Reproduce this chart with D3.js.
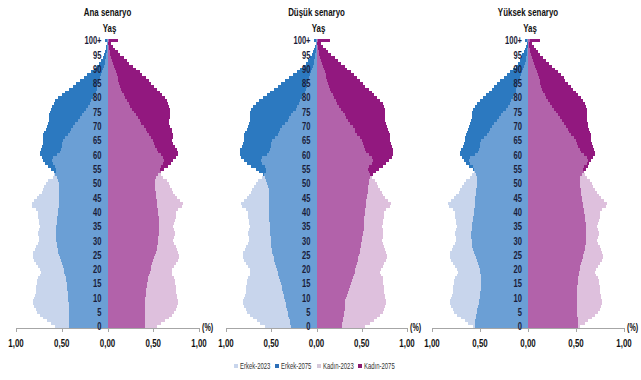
<!DOCTYPE html>
<html>
<head>
<meta charset="utf-8">
<script src="https://cdn.jsdelivr.net/npm/d3@7"></script>
<style>
  body { margin: 0; background: #fff; }
  svg text { font-family: "Liberation Sans", Arial, sans-serif; }
</style>
</head>
<body>
<svg id="chart" width="641" height="380"></svg>
<script>
// categories and labels
const ages = d3.range(0, 101);
const ageTicks = [0, 5, 10, 15, 20, 25, 30, 35, 40, 45, 50, 55, 60, 65, 70, 75, 80, 85, 90, 95, 100];
const ageTickLabels = ['0', '5', '10', '15', '20', '25', '30', '35', '40', '45', '50', '55', '60', '65', '70', '75', '80', '85', '90', '95', '100+'];
const xTicks = [-1, -0.5, 0, 0.5, 1];
const xTickLabels = ['1,00', '0,50', '0,00', '0,50', '1,00'];
const panelTitles = ['Ana senaryo', 'Düşük senaryo', 'Yüksek senaryo'];
const legendLabels = ['Erkek-2023', 'Erkek-2075', 'Kadın-2023', 'Kadın-2075'];

// % of population by single age, 2023 (same in every panel)
const erkek2023 = [
  0.57, 0.62, 0.66, 0.70, 0.74, 0.77, 0.78, 0.80, 0.81, 0.81,
  0.80, 0.79, 0.78, 0.78, 0.78, 0.77, 0.77, 0.76, 0.74, 0.73,
  0.74, 0.76, 0.78, 0.80, 0.81, 0.81, 0.81, 0.79, 0.78, 0.76,
  0.75, 0.75, 0.76, 0.76, 0.75, 0.74, 0.75, 0.75, 0.76, 0.76,
  0.76, 0.78, 0.82, 0.83, 0.80, 0.77, 0.75, 0.72, 0.71, 0.69,
  0.67, 0.65, 0.60, 0.58, 0.56, 0.56, 0.57, 0.60, 0.61, 0.60,
  0.55, 0.52, 0.51, 0.50, 0.50, 0.49, 0.46, 0.43, 0.41, 0.40,
  0.38, 0.35, 0.32, 0.30, 0.28, 0.26, 0.23, 0.21, 0.19, 0.18,
  0.16, 0.15, 0.13, 0.12, 0.11, 0.10, 0.09, 0.08, 0.07, 0.06,
  0.05, 0.04, 0.03, 0.025, 0.02, 0.015, 0.01, 0.01, 0.005, 0.005,
  0.01
];
const kadin2023 = [
  0.54, 0.59, 0.63, 0.67, 0.70, 0.73, 0.75, 0.76, 0.77, 0.77,
  0.76, 0.76, 0.75, 0.75, 0.75, 0.74, 0.74, 0.73, 0.71, 0.70,
  0.71, 0.73, 0.75, 0.77, 0.78, 0.78, 0.77, 0.76, 0.75, 0.73,
  0.72, 0.73, 0.74, 0.74, 0.73, 0.72, 0.73, 0.74, 0.75, 0.75,
  0.75, 0.77, 0.81, 0.82, 0.79, 0.76, 0.74, 0.72, 0.70, 0.68,
  0.67, 0.65, 0.61, 0.59, 0.58, 0.57, 0.58, 0.61, 0.62, 0.61,
  0.58, 0.55, 0.54, 0.52, 0.51, 0.50, 0.48, 0.45, 0.43, 0.42,
  0.40, 0.37, 0.35, 0.33, 0.31, 0.29, 0.27, 0.25, 0.23, 0.21,
  0.19, 0.18, 0.16, 0.15, 0.14, 0.13, 0.12, 0.11, 0.10, 0.09,
  0.08, 0.07, 0.06, 0.05, 0.04, 0.03, 0.025, 0.02, 0.015, 0.01,
  0.02
];

// 2075 by scenario
const erkekAna = [
  0.42, 0.42, 0.42, 0.42, 0.42, 0.42, 0.42, 0.42, 0.42, 0.43,
  0.43, 0.43, 0.43, 0.44, 0.44, 0.44, 0.45, 0.45, 0.46, 0.47,
  0.48, 0.49, 0.50, 0.51, 0.52, 0.53, 0.54, 0.54, 0.55, 0.55,
  0.56, 0.56, 0.56, 0.56, 0.56, 0.56, 0.55, 0.55, 0.55, 0.54,
  0.54, 0.54, 0.53, 0.53, 0.53, 0.53, 0.53, 0.53, 0.53, 0.53,
  0.53, 0.54, 0.55, 0.57, 0.59, 0.62, 0.65, 0.68, 0.70, 0.72,
  0.74, 0.74, 0.73, 0.72, 0.71, 0.70, 0.70, 0.70, 0.69, 0.67,
  0.66, 0.65, 0.64, 0.64, 0.64, 0.63, 0.62, 0.61, 0.59, 0.57,
  0.54, 0.50, 0.46, 0.42, 0.38, 0.34, 0.30, 0.26, 0.22, 0.18,
  0.15, 0.12, 0.09, 0.07, 0.05, 0.04, 0.03, 0.02, 0.015, 0.01,
  0.03
];
const kadinAna = [
  0.41, 0.41, 0.41, 0.41, 0.41, 0.41, 0.41, 0.41, 0.41, 0.41,
  0.41, 0.42, 0.42, 0.42, 0.43, 0.43, 0.44, 0.44, 0.45, 0.46,
  0.47, 0.48, 0.49, 0.50, 0.51, 0.52, 0.53, 0.54, 0.54, 0.55,
  0.55, 0.55, 0.56, 0.56, 0.56, 0.56, 0.56, 0.56, 0.56, 0.55,
  0.55, 0.55, 0.54, 0.54, 0.54, 0.53, 0.53, 0.53, 0.52, 0.52,
  0.52, 0.52, 0.53, 0.55, 0.59, 0.62, 0.66, 0.69, 0.72, 0.75,
  0.77, 0.77, 0.76, 0.74, 0.72, 0.71, 0.72, 0.72, 0.71, 0.70,
  0.68, 0.67, 0.67, 0.68, 0.68, 0.68, 0.68, 0.67, 0.66, 0.65,
  0.63, 0.60, 0.57, 0.54, 0.51, 0.48, 0.45, 0.42, 0.38, 0.35,
  0.31, 0.28, 0.24, 0.21, 0.18, 0.14, 0.11, 0.08, 0.06, 0.04,
  0.12
];
const erkekDusuk = [
  0.28, 0.29, 0.29, 0.30, 0.31, 0.32, 0.33, 0.34, 0.34, 0.35,
  0.36, 0.36, 0.37, 0.38, 0.38, 0.39, 0.40, 0.41, 0.42, 0.43,
  0.44, 0.45, 0.46, 0.47, 0.47, 0.48, 0.49, 0.49, 0.50, 0.50,
  0.50, 0.50, 0.51, 0.51, 0.51, 0.51, 0.51, 0.52, 0.52, 0.52,
  0.52, 0.52, 0.52, 0.52, 0.52, 0.52, 0.53, 0.53, 0.53, 0.54,
  0.55, 0.56, 0.57, 0.59, 0.63, 0.67, 0.72, 0.77, 0.80, 0.83,
  0.85, 0.85, 0.84, 0.82, 0.81, 0.80, 0.80, 0.80, 0.79, 0.77,
  0.76, 0.75, 0.74, 0.74, 0.74, 0.73, 0.72, 0.70, 0.67, 0.63,
  0.59, 0.55, 0.51, 0.47, 0.43, 0.39, 0.35, 0.30, 0.26, 0.22,
  0.18, 0.15, 0.12, 0.09, 0.07, 0.05, 0.04, 0.03, 0.02, 0.01,
  0.03
];
const kadinDusuk = [
  0.28, 0.28, 0.29, 0.29, 0.30, 0.30, 0.31, 0.31, 0.32, 0.32,
  0.33, 0.34, 0.35, 0.36, 0.37, 0.38, 0.39, 0.40, 0.41, 0.42,
  0.43, 0.44, 0.45, 0.46, 0.46, 0.47, 0.48, 0.48, 0.49, 0.49,
  0.50, 0.50, 0.51, 0.51, 0.52, 0.52, 0.52, 0.53, 0.53, 0.54,
  0.54, 0.54, 0.55, 0.55, 0.55, 0.56, 0.56, 0.57, 0.57, 0.57,
  0.58, 0.58, 0.59, 0.62, 0.66, 0.69, 0.73, 0.77, 0.80, 0.83,
  0.85, 0.85, 0.84, 0.83, 0.82, 0.81, 0.81, 0.81, 0.80, 0.79,
  0.78, 0.77, 0.76, 0.76, 0.76, 0.76, 0.76, 0.75, 0.73, 0.70,
  0.67, 0.64, 0.61, 0.58, 0.54, 0.51, 0.48, 0.45, 0.41, 0.38,
  0.34, 0.31, 0.27, 0.24, 0.20, 0.16, 0.13, 0.10, 0.07, 0.05,
  0.15
];
const erkekYuksek = [
  0.55, 0.55, 0.55, 0.54, 0.54, 0.53, 0.53, 0.52, 0.51, 0.51,
  0.50, 0.50, 0.50, 0.49, 0.49, 0.49, 0.49, 0.49, 0.49, 0.50,
  0.50, 0.51, 0.52, 0.53, 0.54, 0.55, 0.56, 0.57, 0.58, 0.58,
  0.58, 0.59, 0.59, 0.59, 0.58, 0.58, 0.58, 0.57, 0.57, 0.56,
  0.56, 0.56, 0.55, 0.55, 0.55, 0.55, 0.54, 0.54, 0.54, 0.53,
  0.53, 0.53, 0.53, 0.54, 0.55, 0.57, 0.61, 0.65, 0.67, 0.69,
  0.71, 0.71, 0.70, 0.68, 0.67, 0.66, 0.66, 0.65, 0.64, 0.62,
  0.61, 0.60, 0.59, 0.58, 0.58, 0.58, 0.57, 0.55, 0.53, 0.50,
  0.47, 0.44, 0.41, 0.38, 0.35, 0.32, 0.29, 0.25, 0.22, 0.19,
  0.16, 0.13, 0.10, 0.08, 0.07, 0.06, 0.04, 0.03, 0.02, 0.01,
  0.03
];
const kadinYuksek = [
  0.52, 0.52, 0.52, 0.52, 0.51, 0.51, 0.51, 0.51, 0.51, 0.51,
  0.51, 0.51, 0.51, 0.51, 0.51, 0.52, 0.52, 0.52, 0.53, 0.53,
  0.54, 0.54, 0.55, 0.56, 0.57, 0.57, 0.58, 0.59, 0.59, 0.60,
  0.60, 0.60, 0.60, 0.60, 0.60, 0.60, 0.60, 0.59, 0.59, 0.59,
  0.58, 0.58, 0.57, 0.57, 0.56, 0.56, 0.55, 0.55, 0.55, 0.54,
  0.54, 0.54, 0.54, 0.56, 0.58, 0.60, 0.62, 0.64, 0.66, 0.68,
  0.70, 0.70, 0.69, 0.68, 0.67, 0.66, 0.66, 0.66, 0.65, 0.64,
  0.63, 0.62, 0.61, 0.61, 0.61, 0.61, 0.61, 0.60, 0.59, 0.57,
  0.55, 0.52, 0.50, 0.47, 0.45, 0.42, 0.39, 0.37, 0.34, 0.31,
  0.28, 0.25, 0.22, 0.19, 0.16, 0.12, 0.10, 0.08, 0.06, 0.04,
  0.12
];

const colors = {
  erkek2023: '#c8d5ec', erkekBoth: '#6b9fd5', erkek2075: '#2c79c0',
  kadin2023: '#dec0dd', kadinBoth: '#b262aa', kadin2075: '#92187f',
  legend: ['#c8d5ec', '#2c6fb8', '#d6c9da', '#8a1a70']
};

const panels = [
  { title: panelTitles[0], erkek: erkekAna, kadin: kadinAna, range: [16, 199] },
  { title: panelTitles[1], erkek: erkekDusuk, kadin: kadinDusuk, range: [226, 407] },
  { title: panelTitles[2], erkek: erkekYuksek, kadin: kadinYuksek, range: [432, 624] }
];

const axisY = 328;
const narrow = 0.72; // squeeze Liberation Sans to look like Arial Narrow
const svg = d3.select('#chart');

const y = d3.scaleBand().domain(ages).range([axisY, 39]);
const bw = y.bandwidth();

panels.forEach((p) => {
  const x = d3.scaleLinear().domain([-1, 1]).range(p.range);
  const g = svg.append('g');
  const x0 = x(0);

  // layers: 2023 only, 2075 only, overlap of both
  const layers = [
    { vals: erkek2023, sign: -1, color: colors.erkek2023 },
    { vals: p.erkek, sign: -1, color: colors.erkek2075 },
    { vals: ages.map((a) => Math.min(erkek2023[a], p.erkek[a])), sign: -1, color: colors.erkekBoth },
    { vals: kadin2023, sign: 1, color: colors.kadin2023 },
    { vals: p.kadin, sign: 1, color: colors.kadin2075 },
    { vals: ages.map((a) => Math.min(kadin2023[a], p.kadin[a])), sign: 1, color: colors.kadinBoth }
  ];

  layers.forEach((l) => {
    g.append('g')
      .attr('shape-rendering', 'crispEdges')
      .selectAll('rect')
      .data(ages)
      .join('rect')
      .attr('x', (a) => Math.min(x0, x(l.sign * l.vals[a])))
      .attr('width', (a) => Math.abs(x(l.sign * l.vals[a]) - x0))
      .attr('y', (a) => y(a))
      .attr('height', bw)
      .attr('fill', l.color);
  });

  // x axis
  g.append('line')
    .attr('x1', p.range[0]).attr('x2', p.range[1])
    .attr('y1', axisY + 0.5).attr('y2', axisY + 0.5)
    .attr('stroke', '#a6a6a6');
  g.selectAll('.tick')
    .data(xTicks)
    .join('line')
    .attr('x1', (d) => Math.round(x(d)) + 0.5).attr('x2', (d) => Math.round(x(d)) + 0.5)
    .attr('y1', axisY).attr('y2', axisY + 4)
    .attr('stroke', '#a6a6a6');
  g.selectAll('.xlab')
    .data(xTicks)
    .join('text')
    .attr('transform', (d) => `translate(${x(d)},${axisY + 19}) scale(${narrow},1)`)
    .attr('text-anchor', 'middle')
    .attr('font-size', 11)
    .attr('font-weight', 'bold')
    .attr('fill', '#111')
    .text((d, i) => xTickLabels[i]);
  g.append('text')
    .attr('transform', `translate(${p.range[1] + 3},${axisY + 3}) scale(${narrow},1)`)
    .attr('font-size', 10)
    .attr('font-weight', 'bold')
    .attr('fill', '#111')
    .text('(%)');

  // age labels
  g.selectAll('.age')
    .data(ageTicks)
    .join('text')
    .attr('transform', (a) => `translate(${x0 - 6},${y(a) + bw / 2}) scale(${narrow},1)`)
    .attr('dy', '0.36em')
    .attr('text-anchor', 'end')
    .attr('font-size', 10.5)
    .attr('font-weight', 'bold')
    .attr('fill', '#1b1d3a')
    .text((a, i) => ageTickLabels[i]);

  // titles
  g.append('text')
    .attr('transform', `translate(${x0},16) scale(${narrow},1)`)
    .attr('text-anchor', 'middle')
    .attr('font-size', 11)
    .attr('font-weight', 'bold')
    .attr('fill', '#111')
    .text(p.title);
  g.append('text')
    .attr('transform', `translate(${x0 + 2},32) scale(${narrow},1)`)
    .attr('text-anchor', 'middle')
    .attr('font-size', 11)
    .attr('font-weight', 'bold')
    .attr('fill', '#111')
    .text('Yaş');
});

// legend
const legendX = [234, 275, 317, 358];
const legend = svg.append('g');
legendLabels.forEach((lab, i) => {
  legend.append('rect')
    .attr('x', legendX[i]).attr('y', 364)
    .attr('width', 4).attr('height', 4)
    .attr('fill', colors.legend[i]);
  legend.append('text')
    .attr('transform', `translate(${legendX[i] + 6},369) scale(0.7,1)`)
    .attr('font-size', 8.5)
    .attr('fill', '#333')
    .text(lab);
});
</script>
</body>
</html>
